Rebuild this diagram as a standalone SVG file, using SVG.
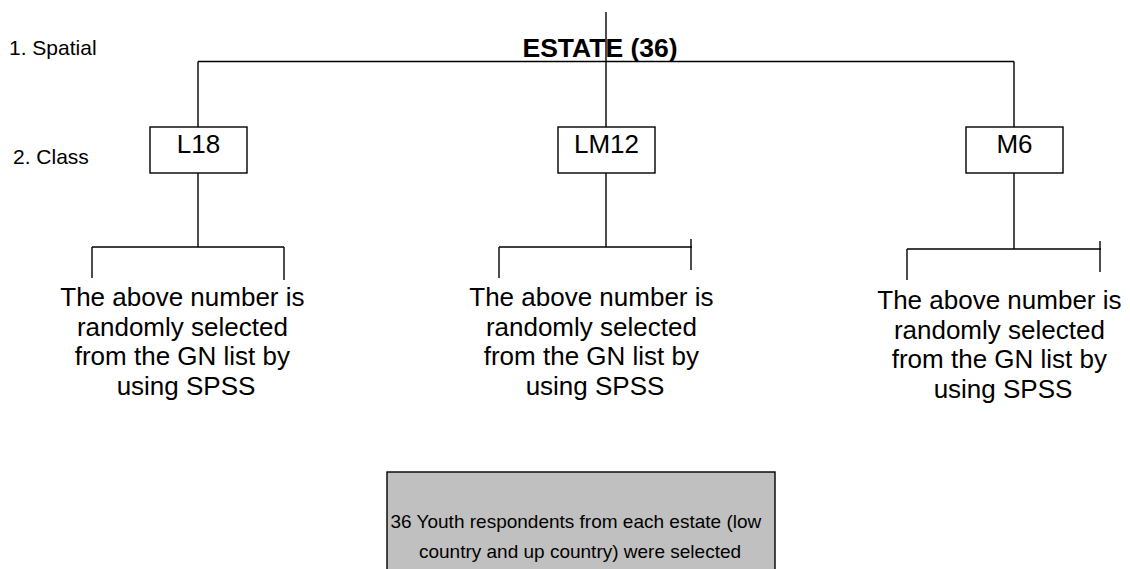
<svg xmlns="http://www.w3.org/2000/svg" width="1130" height="569" viewBox="0 0 1130 569">
<style>
  .ln { stroke: #000; stroke-width: 1.4; fill: none; }
  .box { fill: #fff; stroke: #000; stroke-width: 1.4; }
  .t { font-family: "Liberation Sans", Arial, sans-serif; fill: #000; }
  .lbl { font-size: 21px; }
  .nt { font-size: 26px; text-anchor: middle; }
</style>
<rect width="1130" height="569" fill="#fff"/>
<text class="t lbl" x="9" y="55">1. Spatial</text>
<text class="t lbl" x="13" y="164">2. Class</text>
<g id="connectors">
  <line class="ln" x1="606" y1="12" x2="606" y2="127"/>
  <line class="ln" x1="198" y1="61.5" x2="1014" y2="61.5"/>
  <line class="ln" x1="198" y1="61.5" x2="198" y2="127"/>
  <line class="ln" x1="1014" y1="61.5" x2="1014" y2="127"/>
  <line class="ln" x1="198" y1="173" x2="198" y2="247"/>
  <line class="ln" x1="92" y1="247" x2="284" y2="247"/>
  <line class="ln" x1="92" y1="247" x2="92" y2="278"/>
  <line class="ln" x1="284" y1="247" x2="284" y2="280"/>
  <line class="ln" x1="606" y1="173" x2="606" y2="247"/>
  <line class="ln" x1="499" y1="247" x2="692" y2="247"/>
  <line class="ln" x1="499" y1="247" x2="499" y2="278"/>
  <line class="ln" x1="691" y1="239" x2="691" y2="270"/>
  <line class="ln" x1="1014" y1="173" x2="1014" y2="249"/>
  <line class="ln" x1="907" y1="249" x2="1101" y2="249"/>
  <line class="ln" x1="907" y1="249" x2="907" y2="280"/>
  <line class="ln" x1="1100" y1="241" x2="1100" y2="272"/>
</g>
<g id="estate">
  <text class="t" x="600" y="57" font-size="26.5" font-weight="bold" text-anchor="middle">ESTATE (36)</text>
</g>
<g id="L18">
  <rect class="box" x="150" y="127" width="97" height="46"/>
  <text class="t nt" x="198.5" y="153">L18</text>
</g>
<g id="LM12">
  <rect class="box" x="558" y="127" width="97" height="46"/>
  <text class="t nt" x="606.5" y="153">LM12</text>
</g>
<g id="M6">
  <rect class="box" x="966" y="127" width="97" height="46"/>
  <text class="t nt" x="1014.5" y="153">M6</text>
</g>
<g id="note-L18">
  <text class="t nt" x="186">
    <tspan x="186" y="306">The above number is</tspan>
    <tspan x="186" y="335.5">randomly selected</tspan>
    <tspan x="186" y="365">from the GN list by</tspan>
    <tspan x="186" y="394.5">using SPSS</tspan>
  </text>
</g>
<g id="note-LM12">
  <text class="t nt" x="595">
    <tspan x="595" y="306">The above number is</tspan>
    <tspan x="595" y="335.5">randomly selected</tspan>
    <tspan x="595" y="365">from the GN list by</tspan>
    <tspan x="595" y="394.5">using SPSS</tspan>
  </text>
</g>
<g id="note-M6">
  <text class="t nt" x="1003">
    <tspan x="1003" y="309">The above number is</tspan>
    <tspan x="1003" y="338.5">randomly selected</tspan>
    <tspan x="1003" y="368">from the GN list by</tspan>
    <tspan x="1003" y="397.5">using SPSS</tspan>
  </text>
</g>
<g id="summary">
  <rect x="387" y="472" width="388" height="110" fill="#c0c0c0" stroke="#000" stroke-width="1.4"/>
  <text class="t" font-size="19" text-anchor="middle">
    <tspan x="578.5" y="528">36 Youth respondents from each estate (low</tspan>
    <tspan x="580" y="558">country and up country) were selected</tspan>
  </text>
</g>
</svg>
